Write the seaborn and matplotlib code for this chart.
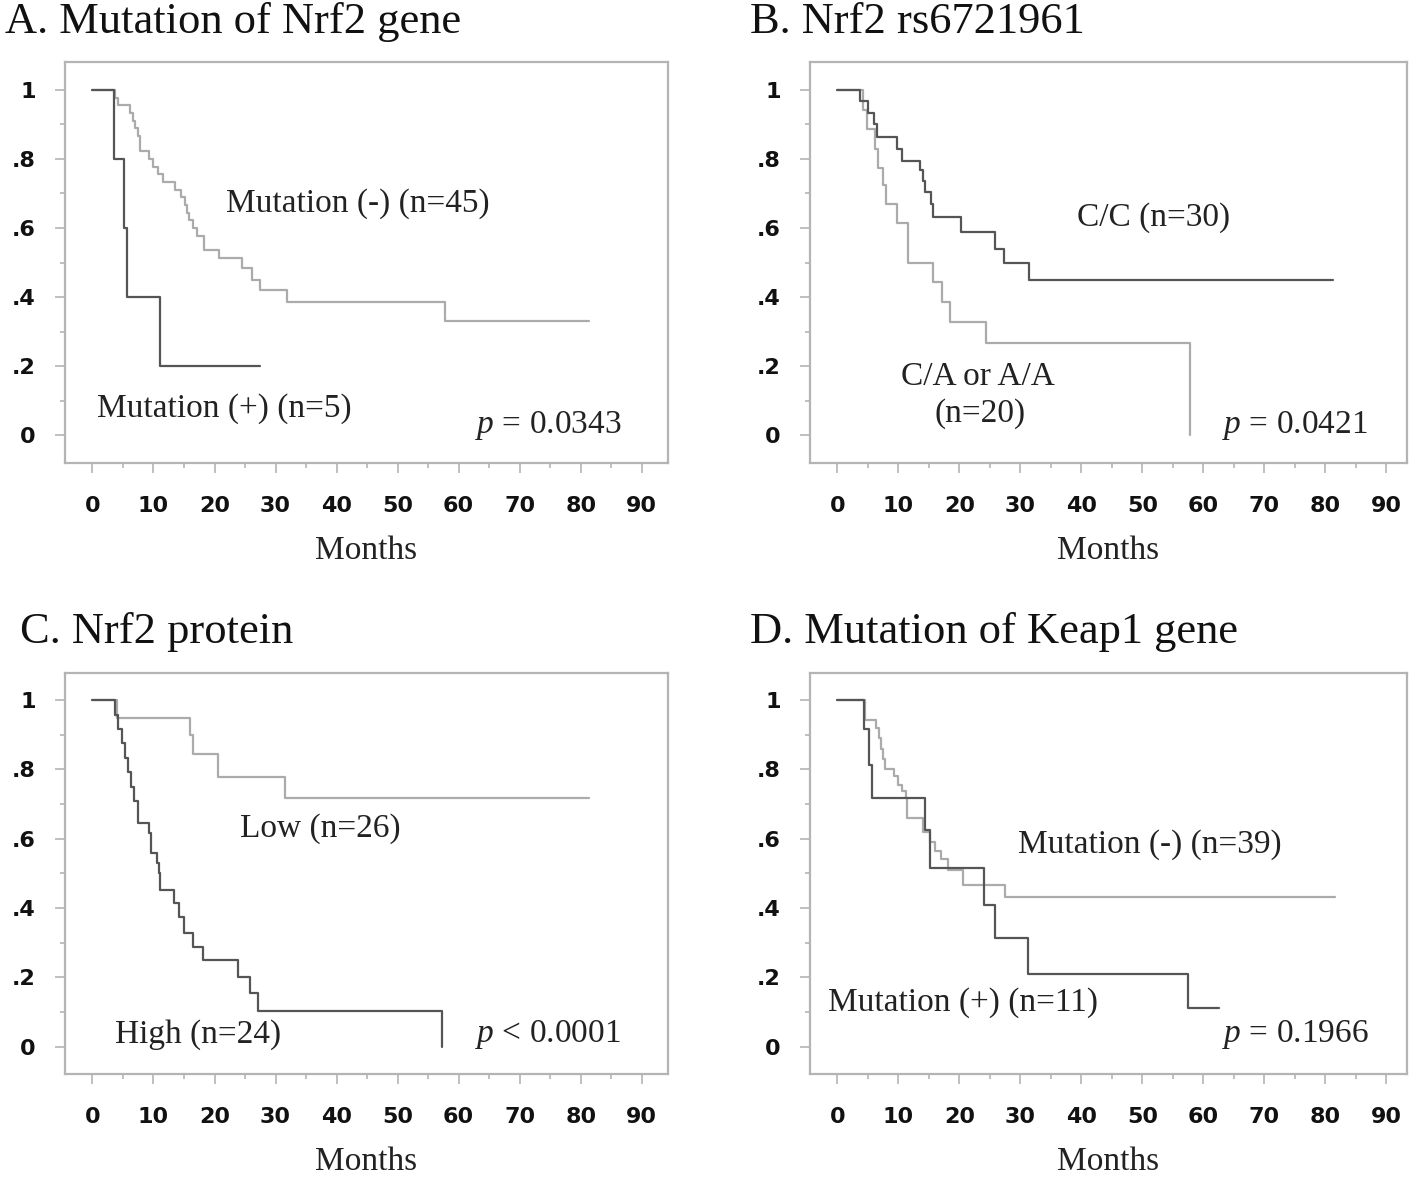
import matplotlib
matplotlib.use("Agg")
import matplotlib.pyplot as plt
import seaborn as sns
import numpy as np
import pandas as pd
from matplotlib.ticker import MultipleLocator, FixedLocator, FixedFormatter

# ---------------- data ----------------
# Panel A: Mutation of Nrf2 gene
a_neg_t = [0, 3.7, 4.2, 6.2, 6.6, 7.0, 7.4, 7.8, 9.2, 10.0, 10.8, 11.6, 13.6, 14.5, 15.2, 15.5, 15.75, 16.4, 17.1, 18.2, 20.7, 24.5, 26.1, 27.5, 31.9, 57.7, 81.4]
a_neg_s = [1, 0.978, 0.956, 0.933, 0.911, 0.889, 0.867, 0.824, 0.800, 0.778, 0.756, 0.733, 0.711, 0.689, 0.667, 0.644, 0.622, 0.600, 0.578, 0.535, 0.513, 0.485, 0.450, 0.420, 0.386, 0.330, 0.330]
a_pos_t = [0, 3.6, 5.1, 5.6, 11.1, 27.5]
a_pos_s = [1, 0.80, 0.60, 0.40, 0.20, 0.20]

# Panel B: Nrf2 rs6721961
b_cc_t = [0, 3.7, 5.0, 6.0, 6.5, 9.7, 10.6, 13.5, 14.0, 14.3, 15.3, 15.7, 20.3, 25.9, 27.3, 31.4, 81.3]
b_cc_s = [1, 0.967, 0.933, 0.900, 0.865, 0.830, 0.793, 0.767, 0.735, 0.705, 0.670, 0.632, 0.588, 0.540, 0.500, 0.449, 0.449]
b_ca_t = [0, 4.2, 4.8, 6.2, 6.7, 7.5, 7.9, 9.7, 11.6, 15.7, 17.1, 18.4, 24.3, 57.8]
b_ca_s = [1, 0.942, 0.886, 0.830, 0.774, 0.725, 0.670, 0.614, 0.500, 0.444, 0.386, 0.328, 0.266, 0.0]

# Panel C: Nrf2 protein
c_low_t = [0, 4.0, 15.9, 16.4, 20.6, 31.5, 81.4]
c_low_s = [1, 0.949, 0.900, 0.844, 0.779, 0.716, 0.716]
c_high_t = [0, 3.7, 4.2, 4.8, 5.3, 5.8, 6.3, 6.8, 7.5, 9.2, 9.6, 10.6, 10.9, 11.1, 13.3, 14.1, 15.0, 16.5, 18.1, 23.9, 25.8, 27.2, 57.3]
c_high_s = [1, 0.958, 0.917, 0.875, 0.833, 0.792, 0.750, 0.708, 0.646, 0.615, 0.560, 0.530, 0.500, 0.452, 0.414, 0.375, 0.327, 0.288, 0.250, 0.202, 0.154, 0.104, 0.0]

# Panel D: Mutation of Keap1 gene
d_neg_t = [0, 4.5, 6.3, 6.8, 7.2, 7.5, 7.8, 9.3, 10.0, 10.6, 11.3, 11.4, 14.0, 15.2, 16.0, 17.0, 18.2, 20.6, 27.4, 81.6]
d_neg_s = [1, 0.942, 0.920, 0.890, 0.860, 0.830, 0.800, 0.780, 0.755, 0.738, 0.716, 0.659, 0.620, 0.590, 0.565, 0.540, 0.510, 0.466, 0.433, 0.433]
d_pos_t = [0, 4.4, 5.1, 5.6, 14.4, 15.2, 24.0, 25.8, 31.3, 57.5, 62.5]
d_pos_s = [1, 0.915, 0.813, 0.716, 0.625, 0.514, 0.409, 0.313, 0.210, 0.111, 0.111]

titles = ["A. Mutation of Nrf2 gene", "B. Nrf2 rs6721961", "C. Nrf2 protein", "D. Mutation of Keap1 gene"]
x_ticks = [0, 10, 20, 30, 40, 50, 60, 70, 80, 90]
y_ticks = [0, 0.2, 0.4, 0.6, 0.8, 1.0]
y_ticklabels = ["0", ".2", ".4", ".6", ".8", "1"]
p_texts = [r"$p$ = 0.0343", r"$p$ = 0.0421", r"$p$ < 0.0001", r"$p$ = 0.1966"]

# ---------------- style ----------------
sns.set_theme(style="white")
plt.rcParams["font.family"] = ["DejaVu Sans"]
plt.rcParams["mathtext.fontset"] = "custom"
plt.rcParams["mathtext.it"] = "Liberation Serif:italic"
plt.rcParams["mathtext.rm"] = "Liberation Serif"

DARK = "#555555"
LIGHT = "#ababab"
FRAME = "#b4b4b4"
SERIF = "Liberation Serif"

W, H = 1418, 1177
fig = plt.figure(figsize=(W / 100, H / 100), dpi=100)

def ax_rect(l, r, t, b):
    return [l / W, 1 - b / H, (r - l) / W, (b - t) / H]

rects = [ax_rect(65, 668, 62, 463), ax_rect(810, 1407, 62, 463),
         ax_rect(65, 668, 673, 1074), ax_rect(810, 1407, 673, 1074)]
xlims = [(-4.5, 94.3), (-4.5, 93.4), (-4.5, 94.3), (-4.5, 93.4)]
ylims = [(-0.081, 1.081), (-0.081, 1.081), (-0.079, 1.078), (-0.079, 1.078)]

series = [
    [(a_neg_t, a_neg_s, LIGHT), (a_pos_t, a_pos_s, DARK)],
    [(b_ca_t, b_ca_s, LIGHT), (b_cc_t, b_cc_s, DARK)],
    [(c_low_t, c_low_s, LIGHT), (c_high_t, c_high_s, DARK)],
    [(d_neg_t, d_neg_s, LIGHT), (d_pos_t, d_pos_s, DARK)],
]

labels = [
    [("Mutation (-) (n=45)", 21.8, 0.67, "left"), ("Mutation (+) (n=5)", 0.8, 0.078, "left")],
    [("C/C (n=30)", 39.3, 0.629, "left"), ("C/A or A/A", 23.1, 0.168, "center"), ("(n=20)", 23.4, 0.061, "center")],
    [("Low (n=26)", 24.2, 0.628, "left"), ("High (n=24)", 3.7, 0.034, "left")],
    [("Mutation (-) (n=39)", 29.6, 0.582, "left"), ("Mutation (+) (n=11)", -1.5, 0.126, "left")],
]
p_pos = [(62.7, 0.029), (63.1, 0.029), (62.7, 0.034), (63.1, 0.034)]
title_pos = [(5 / W, 1 - 22 / H), (750 / W, 1 - 22 / H), (20 / W, 1 - 632 / H), (750 / W, 1 - 632 / H)]

for i in range(4):
    ax = fig.add_axes(rects[i])
    for t, s, c in series[i]:
        df = pd.DataFrame({"t": t, "s": s})
        sns.lineplot(data=df, x="t", y="s", ax=ax, color=c, linewidth=1.6,
                     drawstyle="steps-post", estimator=None, sort=False)
    ax.set_xlim(*xlims[i])
    ax.set_ylim(*ylims[i])
    ax.xaxis.set_major_locator(FixedLocator(x_ticks))
    ax.xaxis.set_minor_locator(MultipleLocator(5))
    ax.yaxis.set_major_locator(FixedLocator(y_ticks))
    ax.yaxis.set_major_formatter(FixedFormatter(y_ticklabels))
    ax.yaxis.set_minor_locator(MultipleLocator(0.1))
    ax.tick_params(axis="both", which="major", direction="out", length=7, width=1.2,
                   color=FRAME, labelsize=16, labelcolor="#111111", bottom=True, left=True)
    ax.tick_params(axis="both", which="minor", direction="out", length=3.5, width=1.2,
                   color=FRAME, bottom=True, left=True)
    ax.tick_params(axis="x", which="major", pad=17)
    ax.tick_params(axis="y", which="major", pad=14)
    for lab in ax.get_xticklabels() + ax.get_yticklabels():
        lab.set_fontweight("bold")
    for sp in ax.spines.values():
        sp.set_visible(True)
        sp.set_color(FRAME)
        sp.set_linewidth(1.6)
    ax.set_xlabel("Months", fontfamily=SERIF, fontsize=24, color="#222222", labelpad=14)
    ax.set_ylabel("")
    for txt, x, y, ha in labels[i]:
        ax.text(x, y, txt, fontfamily=SERIF, fontsize=24, color="#222222", ha=ha, va="center")
    ax.text(p_pos[i][0], p_pos[i][1], p_texts[i], fontfamily=SERIF, fontsize=24,
            color="#222222", ha="left", va="center")
    fig.text(title_pos[i][0], title_pos[i][1], titles[i], fontfamily=SERIF, fontsize=32,
             color="#111111", ha="left", va="center")

fig.savefig("out.png", dpi=100, facecolor="white")
